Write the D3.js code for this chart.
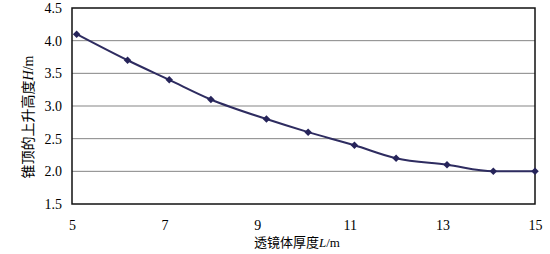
<html lang="zh">
  <head>
    <meta charset="utf-8">
    <title>锥顶上升高度</title>
    <script src="https://d3js.org/d3.v7.min.js"></script>
    <style>
      body { margin: 0; background: #fff; }
    </style>
  </head>
  <body>
    <script type="text/javascript">
      var w = 550;
      var h = 254;
      var margin = {top: 8, right: 15, bottom: 50, left: 72};
      var innerWidth = w - margin.left - margin.right;
      var innerHeight = h - margin.top - margin.bottom;
      var serif = "'Liberation Serif'";

      // data
      var thickness = [5.1, 6.2, 7.1, 8.0, 9.2, 10.1, 11.1, 12.0, 13.1, 14.1, 15.0];
      var riseHeight = [4.1, 3.7, 3.4, 3.1, 2.8, 2.6, 2.4, 2.2, 2.1, 2.0, 2.0];
      var xTicks = [5, 7, 9, 11, 13, 15];
      var yTicks = [1.5, 2.0, 2.5, 3.0, 3.5, 4.0, 4.5];

      var points = thickness.map(function(x, i) { return {x: x, y: riseHeight[i]}; });

      var xScale = d3.scaleLinear().domain([5, 15]).range([0, innerWidth]);
      var yScale = d3.scaleLinear().domain([1.5, 4.5]).range([innerHeight, 0]);

      var svg = d3.select("body")
          .append("svg")
          .attr("width", w)
          .attr("height", h);

      var g = svg.append("g")
          .attr("transform", `translate(${margin.left},${margin.top})`);

      // horizontal grid lines
      g.selectAll(".grid")
          .data(yTicks.slice(1, -1))
          .enter()
          .append("line")
          .attr("x1", 0)
          .attr("x2", innerWidth)
          .attr("y1", function(d) { return yScale(d); })
          .attr("y2", function(d) { return yScale(d); })
          .attr("stroke", "#858585")
          .attr("stroke-width", 1);

      var xAxis = d3.axisBottom(xScale).tickValues(xTicks).tickSize(0).tickPadding(16)
          .tickFormat(d3.format("d"));
      var yAxis = d3.axisLeft(yScale).tickValues(yTicks).tickSize(0).tickPadding(10)
          .tickFormat(d3.format(".1f"));

      var gx = g.append("g").attr("transform", `translate(0,${innerHeight})`).call(xAxis);
      var gy = g.append("g").call(yAxis);
      [gx, gy].forEach(function(a) {
        a.attr("font-family", null).attr("font-size", null);
        a.select(".domain").remove();
        a.selectAll("text")
          .attr("fill", "#000")
          .attr("font-family", serif)
          .attr("font-size", 14);
      });

      // plot frame
      g.append("rect")
          .attr("width", innerWidth)
          .attr("height", innerHeight)
          .attr("fill", "none")
          .attr("stroke", "#111")
          .attr("stroke-width", 1.5);

      var line = d3.line()
          .x(function(d) { return xScale(d.x); })
          .y(function(d) { return yScale(d.y); })
          .curve(d3.curveMonotoneX);

      g.append("path")
          .datum(points)
          .attr("d", line)
          .attr("fill", "none")
          .attr("stroke", "#2e2c60")
          .attr("stroke-width", 2);

      g.selectAll(".pt")
          .data(points)
          .enter()
          .append("path")
          .attr("d", d3.symbol().type(d3.symbolSquare).size(28))
          .attr("transform", function(d) { return `translate(${xScale(d.x)},${yScale(d.y)}) rotate(45)`; })
          .attr("fill", "#26245a");

      // axis titles
      var xt = svg.append("text")
          .attr("x", 297)
          .attr("y", 247)
          .attr("text-anchor", "middle")
          .attr("fill", "#000")
          .attr("font-family", serif)
          .attr("font-size", 13);
      xt.append("tspan").attr("font-family", "'Noto Sans CJK SC'").text("透镜体厚度");
      xt.append("tspan").attr("font-style", "italic").text("L");
      xt.append("tspan").text("/m");

      var yt = svg.append("text")
          .attr("transform", "translate(33,117) rotate(-90)")
          .attr("text-anchor", "middle")
          .attr("fill", "#000")
          .attr("font-family", serif)
          .attr("font-size", 14);
      yt.append("tspan").attr("font-family", "'Noto Sans CJK SC'").text("锥顶的上升高度");
      yt.append("tspan").attr("font-style", "italic").text("H");
      yt.append("tspan").text("/m");
    </script>
  </body>
</html>
